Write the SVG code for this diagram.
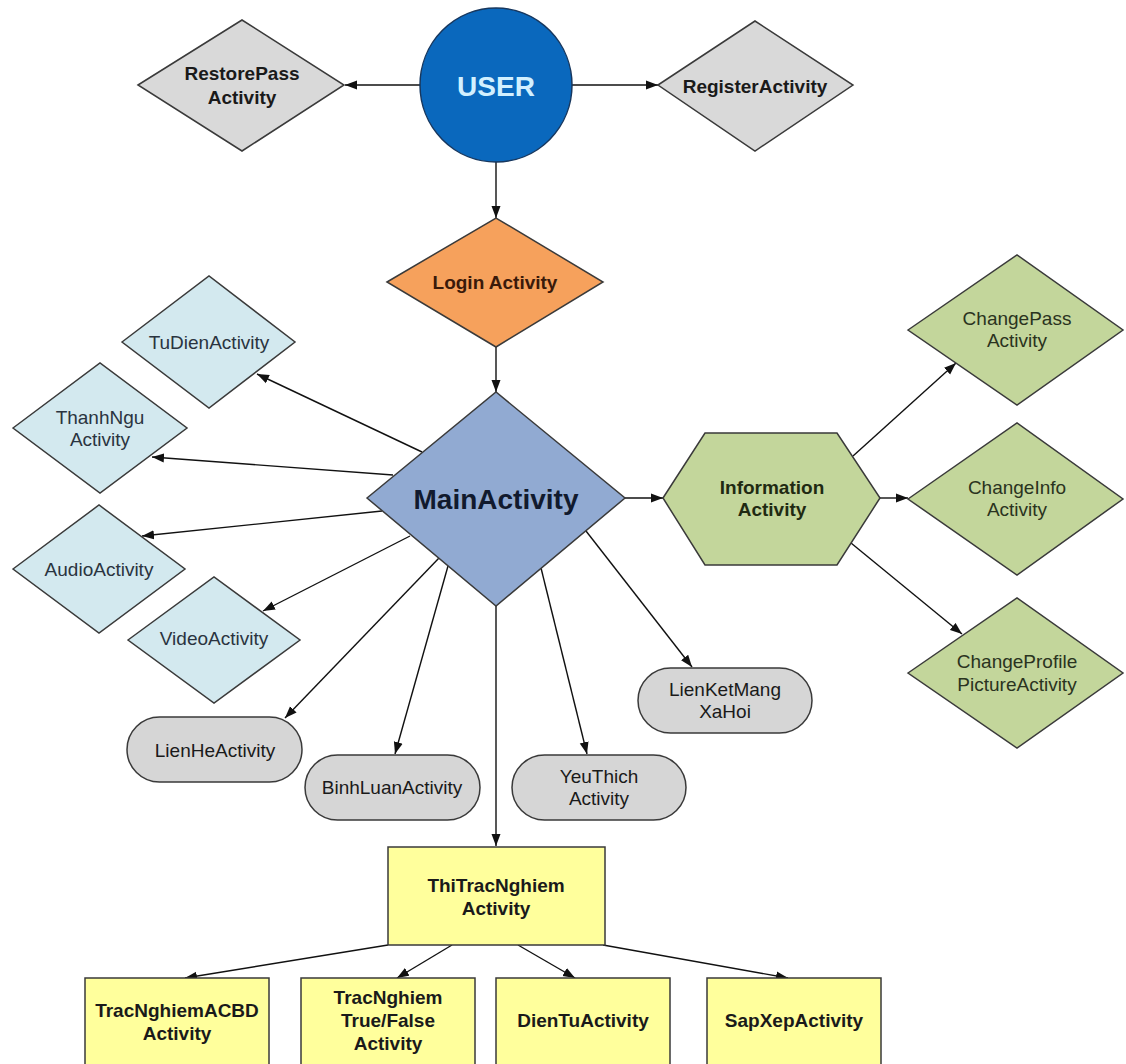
<svg xmlns="http://www.w3.org/2000/svg" width="1126" height="1064" viewBox="0 0 1126 1064">
  <defs>
    <marker id="arrow" markerUnits="userSpaceOnUse" markerWidth="13" markerHeight="10" refX="12" refY="5" orient="auto">
      <path d="M0,0.5 L12,5 L0,9.5 z" fill="#111"/>
    </marker>
    <style>
      .shape { stroke: #3a3a3a; stroke-width: 1.5; }
      .gray { fill: #d9d9d9; }
      .user { fill: #0a68bd; stroke: #17375e; stroke-width: 1.5; }
      .login { fill: #f6a15c; }
      .main { fill: #91aad2; }
      .blue { fill: #d3e9ef; }
      .green { fill: #c3d69b; }
      .pill { fill: #d6d6d6; }
      .yellow { fill: #ffff9c; }
      text { font-family: "Liberation Sans", Arial, sans-serif; font-size: 19px; text-anchor: middle; dominant-baseline: central; fill: #1a1a1a; }
      .b { font-weight: bold; }
      .big { font-size: 28px; font-weight: bold; }
      .edge { stroke: #111; stroke-width: 1.4; fill: none; marker-end: url(#arrow); }
    </style>
  </defs>
  <rect width="1126" height="1064" fill="#ffffff"/>

  <g id="connectors">
    <line class="edge" x1="420" y1="85" x2="345" y2="85"/>
    <line class="edge" x1="572" y1="85" x2="658" y2="85"/>
    <line class="edge" x1="496" y1="162" x2="496" y2="218"/>
    <line class="edge" x1="496" y1="347" x2="496" y2="392"/>
    <line class="edge" x1="422" y1="452" x2="257" y2="374"/>
    <line class="edge" x1="393" y1="475" x2="152" y2="457"/>
    <line class="edge" x1="382" y1="511" x2="142" y2="536"/>
    <line class="edge" x1="410" y1="536" x2="263" y2="611"/>
    <line class="edge" x1="439" y1="558" x2="285" y2="718"/>
    <line class="edge" x1="448" y1="566" x2="395" y2="754"/>
    <line class="edge" x1="496" y1="606" x2="496" y2="846"/>
    <line class="edge" x1="541" y1="568" x2="587" y2="754"/>
    <line class="edge" x1="586" y1="531" x2="692" y2="667"/>
    <line class="edge" x1="625" y1="498" x2="663" y2="498"/>
    <line class="edge" x1="853" y1="456" x2="956" y2="363"/>
    <line class="edge" x1="880" y1="498" x2="908" y2="498"/>
    <line class="edge" x1="851" y1="543" x2="962" y2="634"/>
    <line class="edge" x1="388" y1="945" x2="185" y2="978"/>
    <line class="edge" x1="452" y1="945" x2="397" y2="978"/>
    <line class="edge" x1="518" y1="945" x2="575" y2="978"/>
    <line class="edge" x1="603" y1="945" x2="788" y2="978"/>
  </g>

  <g id="user">
    <ellipse class="user" cx="496" cy="85" rx="76" ry="77"/>
    <text class="big" x="496" y="86" fill="#d2f0ff" style="fill:#d2f0ff">USER</text>
  </g>

  <g id="restore-pass">
    <polygon class="shape gray" points="138,85 242,20 344,85 242,151"/>
    <text class="b" x="242" y="73">RestorePass</text>
    <text class="b" x="242" y="97">Activity</text>
  </g>

  <g id="register">
    <polygon class="shape gray" points="658,85 755,21 853,85 755,151"/>
    <text class="b" x="755" y="86">RegisterActivity</text>
  </g>

  <g id="login">
    <polygon class="shape login" points="387,282 496,218 603,282 496,347"/>
    <text class="b" x="495" y="282" style="fill:#3a1a0a">Login Activity</text>
  </g>

  <g id="main">
    <polygon class="shape main" points="367,498 496,392 625,498 496,606"/>
    <text class="big" x="496" y="499" style="fill:#111a2e">MainActivity</text>
  </g>

  <g id="tudien">
    <polygon class="shape blue" points="122,342 209,276 295,342 209,408"/>
    <text x="209" y="342" style="fill:#2a3440">TuDienActivity</text>
  </g>

  <g id="thanhngu">
    <polygon class="shape blue" points="13,428 100,363 187,428 100,493"/>
    <text x="100" y="417" style="fill:#2a3440">ThanhNgu</text>
    <text x="100" y="439" style="fill:#2a3440">Activity</text>
  </g>

  <g id="audio">
    <polygon class="shape blue" points="13,569 99,505 185,569 99,633"/>
    <text x="99" y="569" style="fill:#2a3440">AudioActivity</text>
  </g>

  <g id="video">
    <polygon class="shape blue" points="128,640 214,577 300,640 214,703"/>
    <text x="214" y="638" style="fill:#2a3440">VideoActivity</text>
  </g>

  <g id="lienhe">
    <rect class="shape pill" x="127" y="717" width="175" height="65" rx="32.5"/>
    <text x="215" y="750">LienHeActivity</text>
  </g>

  <g id="binhluan">
    <rect class="shape pill" x="305" y="755" width="175" height="65" rx="32.5"/>
    <text x="392" y="787">BinhLuanActivity</text>
  </g>

  <g id="yeuthich">
    <rect class="shape pill" x="512" y="755" width="174" height="65" rx="32.5"/>
    <text x="599" y="776">YeuThich</text>
    <text x="599" y="798">Activity</text>
  </g>

  <g id="lienketmang">
    <rect class="shape pill" x="638" y="668" width="174" height="65" rx="32.5"/>
    <text x="725" y="689">LienKetMang</text>
    <text x="725" y="711">XaHoi</text>
  </g>

  <g id="information">
    <polygon class="shape green" points="663,498 705,433 837,433 880,498 837,565 705,565"/>
    <text class="b" x="772" y="487" style="fill:#1f2a12">Information</text>
    <text class="b" x="772" y="509" style="fill:#1f2a12">Activity</text>
  </g>

  <g id="changepass">
    <polygon class="shape green" points="908,330 1017,255 1123,330 1017,405"/>
    <text x="1017" y="318" style="fill:#2a3320">ChangePass</text>
    <text x="1017" y="340" style="fill:#2a3320">Activity</text>
  </g>

  <g id="changeinfo">
    <polygon class="shape green" points="908,499 1017,423 1123,499 1017,575"/>
    <text x="1017" y="487" style="fill:#2a3320">ChangeInfo</text>
    <text x="1017" y="509" style="fill:#2a3320">Activity</text>
  </g>

  <g id="changeprofile">
    <polygon class="shape green" points="908,673 1017,598 1123,673 1017,748"/>
    <text x="1017" y="661" style="fill:#2a3320">ChangeProfile</text>
    <text x="1017" y="684" style="fill:#2a3320">PictureActivity</text>
  </g>

  <g id="thitracnghiem">
    <rect class="shape yellow" x="388" y="847" width="217" height="98"/>
    <text class="b" x="496" y="885">ThiTracNghiem</text>
    <text class="b" x="496" y="908">Activity</text>
  </g>

  <g id="acbd">
    <rect class="shape yellow" x="85" y="978" width="184" height="100"/>
    <text class="b" x="177" y="1010">TracNghiemACBD</text>
    <text class="b" x="177" y="1033">Activity</text>
  </g>

  <g id="truefalse">
    <rect class="shape yellow" x="301" y="978" width="174" height="100"/>
    <text class="b" x="388" y="997">TracNghiem</text>
    <text class="b" x="388" y="1020">True/False</text>
    <text class="b" x="388" y="1043">Activity</text>
  </g>

  <g id="dientu">
    <rect class="shape yellow" x="496" y="978" width="174" height="100"/>
    <text class="b" x="583" y="1020">DienTuActivity</text>
  </g>

  <g id="sapxep">
    <rect class="shape yellow" x="707" y="978" width="174" height="100"/>
    <text class="b" x="794" y="1020">SapXepActivity</text>
  </g>
</svg>
